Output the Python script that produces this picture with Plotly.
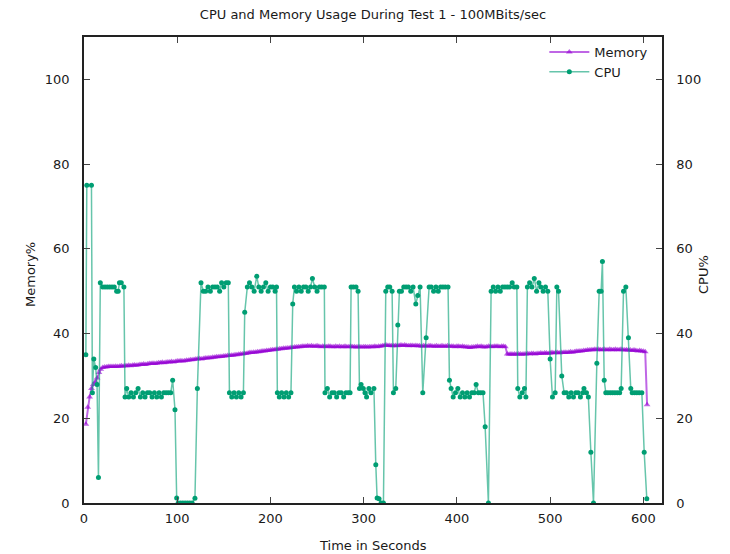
import plotly.graph_objects as go

# ---------------- data ----------------
title_text = "CPU and Memory Usage During Test 1 - 100MBits/sec"
x_title = "Time in Seconds"
y_title = "Memory%"
y2_title = "CPU%"
x_ticks = [0, 100, 200, 300, 400, 500, 600]
y_ticks = [0, 20, 40, 60, 80, 100]

# Memory %, sampled every 2 s from t=2 to t=604
mem_time = list(range(2, 605, 2))
mem_values = [
    18.6, 22.6, 25.0, 27.0, 28.0, 28.6, 29.5, 30.8, 31.6, 32.0, 32.1, 32.1, 32.2, 32.2, 32.2,
    32.2, 32.3, 32.2, 32.3, 32.4, 32.3, 32.4, 32.4, 32.5, 32.4, 32.5, 32.6, 32.5, 32.6, 32.7,
    32.7, 32.8, 32.7, 32.8, 32.9, 32.9, 33.0, 32.9, 33.0, 33.1, 33.1, 33.2, 33.1, 33.2, 33.3,
    33.3, 33.4, 33.3, 33.4, 33.5, 33.5, 33.6, 33.5, 33.6, 33.7, 33.7, 33.8, 33.8, 33.9, 34.0,
    34.0, 34.1, 34.0, 34.1, 34.2, 34.2, 34.3, 34.3, 34.4, 34.4, 34.5, 34.5, 34.6, 34.6, 34.7,
    34.7, 34.8, 34.8, 34.9, 34.9, 35.0, 35.0, 35.1, 35.2, 35.2, 35.3, 35.3, 35.4, 35.5, 35.5,
    35.6, 35.6, 35.7, 35.7, 35.8, 35.9, 35.9, 36.0, 36.0, 36.1, 36.2, 36.2, 36.3, 36.3, 36.4,
    36.4, 36.5, 36.5, 36.6, 36.6, 36.7, 36.7, 36.8, 36.8, 36.9, 36.9, 37.0, 37.0, 37.0, 37.1,
    37.0, 37.1, 37.0, 37.0, 37.1, 37.0, 36.9, 37.0, 37.0, 36.9, 37.0, 37.0, 36.9, 36.9, 37.0,
    36.9, 37.0, 36.9, 36.9, 37.0, 36.9, 36.9, 37.0, 36.9, 36.9, 36.8, 36.9, 36.9, 36.8, 36.9,
    36.9, 36.8, 36.9, 36.9, 36.9, 37.0, 36.9, 37.0, 37.0, 37.1, 37.2, 37.3, 37.2, 37.2, 37.1,
    37.1, 37.2, 37.1, 37.2, 37.3, 37.2, 37.3, 37.2, 37.1, 37.2, 37.2, 37.1, 37.2, 37.1, 37.1,
    37.0, 37.1, 37.1, 37.0, 37.1, 37.1, 37.0, 37.0, 37.1, 37.0, 37.0, 37.1, 37.0, 37.0, 37.1,
    37.0, 37.0, 37.0, 36.9, 37.0, 37.0, 36.9, 37.0, 36.9, 36.8, 36.8, 36.7, 36.8, 36.8, 36.9,
    37.0, 36.9, 37.0, 36.9, 36.8, 36.9, 37.0, 37.0, 36.9, 37.0, 37.0, 37.0, 36.9, 37.0, 37.0,
    36.9, 35.2, 35.1, 35.2, 35.1, 35.2, 35.1, 35.2, 35.2, 35.1, 35.2, 35.2, 35.3, 35.2, 35.3,
    35.3, 35.2, 35.3, 35.3, 35.4, 35.3, 35.4, 35.4, 35.3, 35.4, 35.5, 35.4, 35.5, 35.5, 35.4,
    35.5, 35.5, 35.6, 35.5, 35.6, 35.7, 35.6, 35.7, 35.8, 35.8, 35.9, 35.9, 36.0, 36.0, 36.1,
    36.1, 36.2, 36.2, 36.3, 36.2, 36.3, 36.2, 36.2, 36.3, 36.2, 36.2, 36.3, 36.2, 36.2, 36.3,
    36.2, 36.2, 36.3, 36.2, 36.1, 36.2, 36.1, 36.1, 36.0, 36.1, 36.0, 35.9, 36.0, 35.9, 35.8,
    35.7, 23.2,
]

# CPU %, irregular sample times (s)
cpu_time = [
    2, 3, 8, 9, 10.5, 12.5, 14, 15.5, 17.5, 20, 22.5, 25, 27.5, 30, 32.5, 35, 36.7, 38, 40, 42.8,
    44, 45.8, 48, 50.5, 53, 55.5, 58, 60.5, 63, 65.5, 68, 70.5, 73, 75.5, 78, 80.5, 83, 85.5, 88, 90.5, 93,
    95.1, 97.6, 99.4, 101, 103.5, 106, 108.5, 111, 113.5, 116, 119, 121.6,
    125.5, 128, 130.5, 133, 135.5, 138, 140.5, 143, 145.5, 147.6, 150, 152.5, 154.8,
    156, 158.5, 161, 163.5, 166, 168.5, 171, 172.4,
    175.2, 177.5, 180, 182.5, 185.3, 187.5, 190, 192.5, 195, 197.5, 200, 202.5, 205, 206.5,
    207.4, 209.5, 212, 214.5, 217, 219.5, 222, 223.9,
    225.7, 228, 230.5, 233, 235.5, 238, 240.5, 243, 245, 247.5, 250, 252.5, 255, 257.8,
    258.5, 261, 263.5, 266, 268.5, 271, 273.5, 276, 278.5, 281, 283.5, 285.4,
    286.5, 289, 291.8, 294, 295.5, 297.2, 299.6, 301.4, 303.1, 305.6, 307.8, 311,
    313, 314.4, 316.5, 318.7, 321.2, 323.7, 325.8, 328, 330.5, 331.9, 334.4, 336.6,
    338.3, 340.5, 343, 345.5, 348, 350.5, 353, 355.9, 358, 360.5, 363.4, 367,
    370.2, 372.5, 375, 377.5, 380, 382.5, 385, 387.5, 390.5, 392, 393.8,
    396, 398.5, 401, 403.5, 406, 408.5, 411, 413.5, 416, 418.5, 420.6, 423, 425.5, 428, 430.3, 433.8,
    436.7, 439, 441.5, 444, 446.5, 449, 451.5, 454, 456.5, 459.3, 461.5, 464.3,
    465.3, 467.5, 470, 472.5, 474,
    475.6, 478, 480.5, 483, 485.5, 488, 490, 492.5, 495, 497.5, 500, 502.5, 505.4, 507.2, 509, 512.5,
    515, 517.5, 520, 522.5, 525, 527.5, 530, 532.5, 535, 536.3, 539, 541, 543.7, 546.5,
    550.1, 552.6, 554.7, 556.1, 558, 559.7, 562, 564.5, 567, 569.5, 572, 574.6, 576.2,
    578.7, 581.2, 584, 586.5, 588, 590.5, 593, 595.5, 598.4, 600.9, 603.7,
]
cpu_values = [
    35, 75, 75, 26, 34, 32, 28, 6, 52, 51, 51, 51, 51, 51, 51, 50, 50, 52, 52, 51,
    25, 27, 25, 26, 25, 26, 27, 25, 26, 25, 26, 26, 25, 26, 25, 26, 25, 26, 26, 26, 26,
    29, 22, 1.2, 0, 0, 0, 0, 0, 0, 0, 1.1, 27,
    52, 50, 50, 51, 50, 51, 51, 51, 50, 52, 51, 52, 52,
    26, 25, 26, 25, 26, 25, 26, 45,
    51, 52, 51, 50, 53.5, 51, 50, 51, 52, 50, 51, 51, 50, 51,
    26, 25, 26, 25, 26, 25, 26, 47,
    51, 50, 51, 50, 51, 51, 50, 51, 53, 51, 50, 51, 51, 51,
    26, 27, 25, 26, 26, 25, 26, 26, 25, 26, 26, 26,
    51, 51, 51, 50, 27, 28, 27, 26, 25, 27, 26, 27,
    9, 1.2, 1, 0, 0, 50, 51, 51, 50, 26, 27, 42,
    50, 50, 51, 51, 51, 50, 51, 47, 49, 51, 26, 39,
    51, 51, 50, 51, 50, 51, 51, 51, 51, 29, 27,
    25, 26, 27, 25, 26, 25, 26, 25, 26, 26, 28, 26, 26, 26, 18, 0,
    50, 51, 50, 51, 50, 51, 51, 51, 51, 52, 51, 51,
    27, 25, 26, 27, 25,
    51, 52, 51, 53, 50, 52, 51, 50, 51, 50, 34, 25, 26, 51, 50, 30,
    26, 26, 25, 26, 25, 26, 26, 25, 26, 27, 26, 25, 12, 0,
    33, 50, 50, 57, 29, 26, 26, 26, 26, 26, 26, 26, 27,
    50, 51, 39, 27, 26, 26, 26, 26, 26, 12, 1,
]
assert len(mem_time) == len(mem_values), (len(mem_time), len(mem_values))
assert len(cpu_time) == len(cpu_values), (len(cpu_time), len(cpu_values))

# ---------------- figure ----------------
font_family = "DejaVu Sans, Liberation Sans, sans-serif"
text_color = "#1a1a1a"

fig = go.Figure()
fig.add_trace(go.Scatter(
    x=mem_time, y=mem_values, name="Memory", mode="lines+markers",
    line=dict(color="rgba(148,0,211,0.6)", width=2),
    marker=dict(symbol="triangle-up", size=6, color="rgba(148,0,211,0.6)", line=dict(width=0)),
    yaxis="y",
))
fig.add_trace(go.Scatter(
    x=cpu_time, y=cpu_values, name="CPU", mode="lines+markers",
    line=dict(color="rgba(0,158,115,0.6)", width=1.5),
    marker=dict(symbol="circle", size=5, color="#009E73", line=dict(width=0)),
    yaxis="y2",
))

axis_common = dict(
    showline=True, linecolor="#222", linewidth=1.5,
    ticks="inside", ticklen=6, tickwidth=1, tickcolor="#444",
    showgrid=False, zeroline=False, automargin=False,
    tickfont=dict(family=font_family, size=13, color=text_color),
)

# plot area (figure px): left 76, right 654, top 29, bottom 495
fig.update_layout(
    width=730, height=554,
    margin=dict(l=76, r=76, t=29, b=59),
    paper_bgcolor="white", plot_bgcolor="white",
    font=dict(family=font_family, size=13, color=text_color),
    title=dict(text=title_text, x=0.5, xref="paper", xanchor="center",
               y=1 - 6 / 554, yanchor="middle",
               font=dict(size=13, family=font_family, color=text_color)),
    xaxis=dict(range=[0, 620], tickvals=x_ticks, mirror="ticks", **axis_common,
               ticklabelstandoff=3),
    yaxis=dict(range=[0, 110], tickvals=y_ticks, mirror=False, **axis_common,
               ticklabelstandoff=10),
    yaxis2=dict(range=[0, 110], tickvals=y_ticks, overlaying="y", side="right", **axis_common,
                ticklabelstandoff=10),
    legend=dict(x=0.985, xanchor="right", y=1.0, yanchor="top", bgcolor="rgba(0,0,0,0)",
                font=dict(size=13, family=font_family, color=text_color),
                tracegroupgap=0, itemwidth=40),
    showlegend=True,
    annotations=[
        dict(text=y_title, xref="paper", yref="paper", x=(22 - 76) / 578, y=(495 - 267) / 466,
             xanchor="center", yanchor="middle", textangle=-90, showarrow=False,
             font=dict(size=13, family=font_family, color=text_color)),
        dict(text=y2_title, xref="paper", yref="paper", x=(695 - 76) / 578, y=(495 - 267) / 466,
             xanchor="center", yanchor="middle", textangle=-90, showarrow=False,
             font=dict(size=13, family=font_family, color=text_color)),
        dict(text=x_title, xref="paper", yref="paper", x=(365 - 76) / 578, y=(495 - 537) / 466,
             xanchor="center", yanchor="middle", showarrow=False,
             font=dict(size=13, family=font_family, color=text_color)),
    ],
)

fig.write_html("out.html")
